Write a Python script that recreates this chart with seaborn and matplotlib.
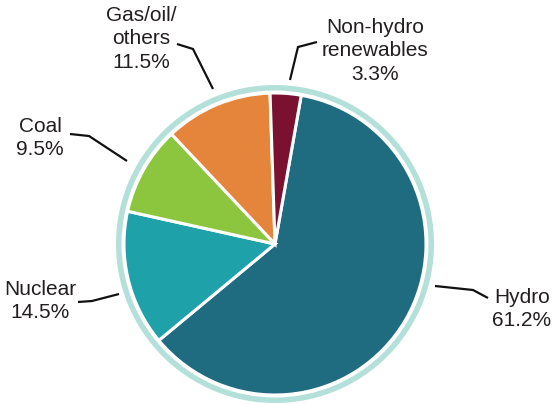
import matplotlib
matplotlib.use("Agg")
import matplotlib.pyplot as plt
import seaborn as sns

# Electricity generation mix
names = ["Hydro", "Nuclear", "Coal", "Gas/oil/\nothers", "Non-hydro\nrenewables"]
shares = [61.2, 14.5, 9.5, 11.5, 3.3]
colors = ["#1f6c80", "#1fa1a9", "#8cc63f", "#e5853b", "#7b1131"]
ring_color = "#b3e0d9"

W, H = 552, 404

sns.set_theme(style="white")
plt.rcParams["font.family"] = ["Liberation Sans Narrow", "Liberation Sans", "DejaVu Sans"]

fig = plt.figure(figsize=(W / 100, H / 100), dpi=100)
ax = fig.add_axes([0, 0, 1, 1])


def px(x, y):
    """Pixel position (origin top-left) -> data coordinates."""
    return x, H - y


cx, cy = px(275, 244)

# outer decorative ring
ax.pie([1], colors=[ring_color], radius=159, center=(cx, cy),
       wedgeprops=dict(width=5.5, linewidth=0), frame=True)

# main pie, clockwise from just right of 12 o'clock
ax.pie(shares, colors=colors, radius=151, center=(cx, cy),
       startangle=80, counterclock=False,
       wedgeprops=dict(edgecolor="white", linewidth=2.2), frame=True)
ax.set_xlim(0, W)
ax.set_ylim(0, H)
ax.set_aspect("equal")
ax.axis("off")

# label block centers and leader polylines (pixel layout)
label_pos = {
    "Hydro": (522, 309),
    "Nuclear": (40, 301),
    "Coal": (40, 138),
    "Gas/oil/\nothers": (141, 39),
    "Non-hydro\nrenewables": (375, 51),
}
leaders = {
    "Hydro": [(435, 286), (473, 290), (488, 298)],
    "Nuclear": [(78, 302), (92, 301), (119, 294)],
    "Coal": [(70, 134), (89, 136), (127, 161)],
    "Gas/oil/\nothers": [(177, 44), (193, 49), (213, 89)],
    "Non-hydro\nrenewables": [(290, 80), (298, 47), (317, 42)],
}

for name, share in zip(names, shares):
    x, y = px(*label_pos[name])
    ax.text(x, y, f"{name}\n{share:.1f}%", ha="center", va="center",
            fontsize=15, color="#231f20", linespacing=1.32)
    pts = [px(*p) for p in leaders[name]]
    ax.plot([p[0] for p in pts], [p[1] for p in pts], color="#111111",
            linewidth=1.6, solid_capstyle="butt", solid_joinstyle="miter")

fig.savefig("out.png", dpi=100)
